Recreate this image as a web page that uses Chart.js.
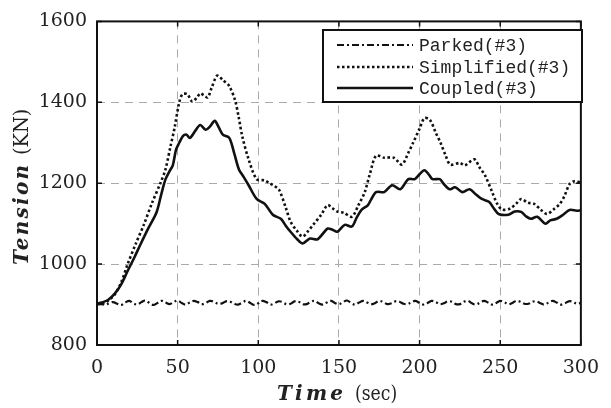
<!DOCTYPE html>
<html>
<head>
<meta charset="utf-8"/>
<style>
  html,body{margin:0;padding:0;background:#fff;}
  #wrap{position:relative;width:611px;height:408px;}
</style>
<script src="https://cdn.jsdelivr.net/npm/chart.js@4.4.0/dist/chart.umd.min.js"></script>
</head>
<body>
<div id="wrap"><canvas id="c" width="611" height="408"></canvas></div>
<script>
// tick labels
const xTicks = [0, 50, 100, 150, 200, 250, 300];
const yTicks = [800, 1000, 1200, 1400, 1600];
const seriesNames = ["Parked(#3)", "Simplified(#3)", "Coupled(#3)"];

// Simplified(#3): time (sec) / tension (KN)
const simpTime = [0,4,7,11,15,19,24,29,34,39.5,42.5,45.5,48,51,53,56,59,62,64,66,68.6,71,74.5,78,82,85.6,88,90,94,99,104,107,110,113,117,120,124,127.5,131,134,139,143,146,149,153,158,162,166,169,173,178,184,189,193,196,200,203,206.5,210,213,216,219,225,228,234,237,240.5,245,248,251,256,260,263,267,271,275,279,283,287,290,293,296,300];
const simpTension = [902,903,910,925,955,1000,1050,1097,1150,1202,1235,1290,1335,1400,1420,1420,1402,1412,1422,1418,1412,1435,1466,1455,1440,1405,1360,1317,1259,1210,1207,1200,1193,1183,1140,1105,1082,1068,1082,1097,1122,1146,1138,1130,1127,1117,1145,1178,1220,1268,1263,1263,1246,1275,1300,1335,1361,1356,1325,1300,1270,1246,1250,1244,1259,1240,1220,1178,1150,1135,1137,1150,1161,1152,1149,1135,1124,1135,1149,1170,1198,1205,1202];

// Coupled(#3)
const coupTime = [0,3,7,11,15,19,23,27,32,37,40,42.5,45,47,49,51,53.4,55.5,57.6,61,64,67.4,70,73,75.5,78,82,85,88,91,94,99,104,109,114,117,120,124,127.5,132,136.6,140,143,146,149,153.6,158,161,164,168,170,173,178,183,188,193,197,200,203,206,208,212.5,215,218.6,222,226.5,231,235,238.6,243,246,249,255,259,263,266,269,273,278,281,285,289,293,297.5,300];
const coupTension = [902,905,912,927,950,983,1015,1049,1090,1129,1175,1210,1230,1244,1283,1300,1317,1320,1312,1330,1344,1332,1340,1354,1338,1320,1312,1275,1234,1215,1195,1161,1149,1122,1112,1095,1080,1062,1051,1063,1061,1075,1088,1085,1080,1097,1093,1115,1134,1146,1160,1178,1178,1195,1185,1210,1210,1222,1232,1220,1210,1210,1198,1185,1190,1178,1185,1172,1161,1154,1138,1124,1122,1130,1129,1118,1112,1117,1100,1108,1112,1122,1134,1132,1133];

// Parked(#3), sampled every 2.5 s from 0 to 300
const parkTension = [900,901,900,903,906,902,899,905,909,903,900,906,910,904,899,904,909,905,901,906,910,904,900,905,909,906,901,904,909,907,902,903,908,907,902,900,905,909,904,899,903,909,906,900,903,908,906,901,902,908,907,901,901,907,909,903,900,905,909,904,901,906,910,904,900,905,909,905,901,904,909,906,901,903,908,907,902,901,906,909,904,900,904,909,906,901,903,908,907,901,901,907,909,903,900,905,909,905,900,904,909,906,901,904,909,907,902,902,907,908,903,900,905,909,905,900,903,908,907,902,904];
const parkTime = parkTension.map((_, i) => i * 2.5);

const pts = (t, v) => t.map((x, i) => ({ x, y: v[i] }));

const TICK_FONT = "DejaVu Serif";

// frame, inner ticks, axis titles and legend box
const decor = {
  id: "decor",
  afterDraw(chart) {
    const { ctx, chartArea: a, scales } = chart;
    ctx.save();
    ctx.strokeStyle = "#111";
    ctx.lineWidth = 1.5;
    ctx.setLineDash([]);
    // inner ticks
    ctx.beginPath();
    xTicks.forEach(t => {
      const x = scales.x.getPixelForValue(t);
      ctx.moveTo(x, a.bottom); ctx.lineTo(x, a.bottom - 5);
      ctx.moveTo(x, a.top); ctx.lineTo(x, a.top + 5);
    });
    yTicks.forEach(t => {
      const y = scales.y.getPixelForValue(t);
      ctx.moveTo(a.left, y); ctx.lineTo(a.left + 5, y);
      ctx.moveTo(a.right, y); ctx.lineTo(a.right - 5, y);
    });
    ctx.stroke();
    // frame
    ctx.lineWidth = 2;
    ctx.strokeRect(a.left, a.top, a.right - a.left, a.bottom - a.top);

    // axis titles: bold italic name + regular unit
    const drawTitle = (bold, reg, x0, y0, boldW, gap, regW) => {
      ctx.fillStyle = "#222";
      ctx.textBaseline = "alphabetic";
      ctx.textAlign = "left";
      ctx.font = "italic bold 20px " + TICK_FONT;
      let w = ctx.measureText(bold).width;
      ctx.letterSpacing = ((boldW - w) / (bold.length - 1)) + "px";
      ctx.fillText(bold, x0, y0);
      ctx.font = "20px " + TICK_FONT;
      w = ctx.measureText(reg).width;
      ctx.letterSpacing = "0px";
      const sc = regW / w;
      ctx.save();
      ctx.translate(x0 + boldW + gap, y0);
      ctx.scale(sc, 1);
      ctx.fillText(reg, 0, 0);
      ctx.restore();
      ctx.letterSpacing = "0px";
    };
    drawTitle("Time", "(sec)", 277, 400, 66, 12, 56);
    ctx.save();
    ctx.translate(28, 265);
    ctx.rotate(-Math.PI / 2);
    drawTitle("Tension", "(KN)", 0, 0, 100, 10, 55);
    ctx.restore();

    // legend
    const lx = 323, ly = 30, lw = 259, lh = 72;
    ctx.fillStyle = "#fff";
    ctx.fillRect(lx, ly, lw, lh);
    ctx.lineWidth = 2;
    ctx.strokeStyle = "#111";
    ctx.setLineDash([]);
    ctx.strokeRect(lx, ly, lw, lh);
    const rows = [45, 67, 88];
    chart.data.datasets.forEach((ds, i) => {
      ctx.beginPath();
      ctx.lineWidth = ds.borderWidth;
      ctx.setLineDash(ds.borderDash || []);
      ctx.moveTo(337, rows[i]); ctx.lineTo(413, rows[i]);
      ctx.stroke();
      ctx.setLineDash([]);
      ctx.fillStyle = "#222";
      ctx.font = "18px 'Liberation Mono'";
      ctx.textBaseline = "middle";
      ctx.fillText(seriesNames[i], 419, rows[i] + 1);
    });
    ctx.restore();
  }
};

new Chart(document.getElementById("c"), {
  type: "line",
  data: {
    datasets: [
      { label: seriesNames[0], data: pts(parkTime, parkTension), borderColor: "#111",
        borderWidth: 2.2, borderDash: [7, 3, 2, 3], pointRadius: 0, tension: 0.4 },
      { label: seriesNames[1], data: pts(simpTime, simpTension), borderColor: "#111",
        borderWidth: 2.6, borderDash: [2.5, 2.5], pointRadius: 0, tension: 0.3 },
      { label: seriesNames[2], data: pts(coupTime, coupTension), borderColor: "#111",
        borderWidth: 2.6, pointRadius: 0, tension: 0.3 }
    ]
  },
  options: {
    responsive: false,
    animation: false,
    layout: { padding: { top: 17, right: 20, left: 0, bottom: 0 } },
    plugins: { legend: { display: false }, tooltip: { enabled: false } },
    scales: {
      x: {
        type: "linear", min: 0, max: 300,
        afterBuildTicks: s => { s.ticks = xTicks.map(v => ({ value: v })); },
        afterFit: s => { s.height = 63; },
        grid: { color: "#aaa", lineWidth: 1, drawTicks: false },
        border: { display: false, dash: [8, 6] },
        ticks: { color: "#222", padding: 12, callback: v => String(v),
                 font: { family: TICK_FONT, size: 19 } }
      },
      y: {
        min: 800, max: 1600,
        afterBuildTicks: s => { s.ticks = yTicks.map(v => ({ value: v })); },
        afterFit: s => { s.width = 97; },
        grid: { color: "#aaa", lineWidth: 1, drawTicks: false },
        border: { display: false, dash: [8, 6] },
        ticks: { color: "#222", padding: 10, callback: v => String(v),
                 font: { family: TICK_FONT, size: 19 } }
      }
    }
  },
  plugins: [decor]
});
</script>
</body>
</html>
